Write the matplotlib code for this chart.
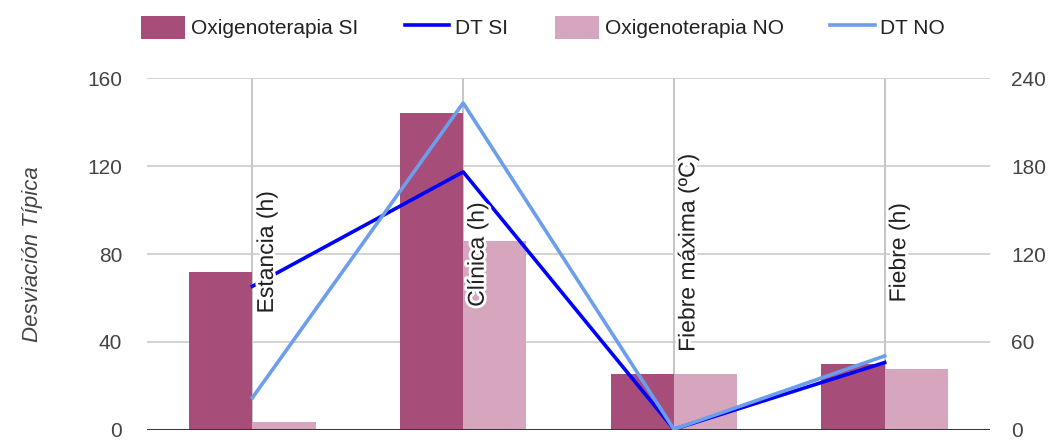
import numpy as np
import matplotlib.pyplot as plt
import matplotlib.patheffects as pe

plt.rcParams['font.family'] = ['Liberation Sans', 'DejaVu Sans']

# datos
categorias = ["Estancia (h)", "Clínica (h)", "Fiebre máxima (ºC)", "Fiebre (h)"]
oxi_si = [72, 144, 25.5, 30]
oxi_no = [3.5, 86, 25.5, 27.7]
dt_si = [98, 176, 0.5, 46]
dt_no = [22, 223, 0.5, 50.5]
# altura (eje izq.) donde termina cada etiqueta girada
etiqueta_y = [53, 56, 35.5, 58]

c_si = "#a64d79"
c_no = "#d5a6bd"
c_dtsi = "#0000ff"
c_dtno = "#6d9eeb"
gris = "#444444"

fig = plt.figure(figsize=(10.48, 4.41), dpi=100)
ax = fig.add_axes([0.1403, 0.025, 0.8044, 0.798])
ax2 = ax.twinx()

x = np.arange(len(categorias))
w = 0.30
b1 = ax.bar(x - w / 2, oxi_si, w, color=c_si, zorder=2, label="Oxigenoterapia SI")
b2 = ax.bar(x + w / 2, oxi_no, w, color=c_no, zorder=2, label="Oxigenoterapia NO")
l1, = ax2.plot(x, dt_si, color=c_dtsi, lw=2.6, zorder=3, label="DT SI")
l2, = ax2.plot(x, dt_no, color=c_dtno, lw=2.6, zorder=3, label="DT NO")

ax.set_xlim(-0.5, len(categorias) - 0.5)
ax.set_ylim(0, 160)
ax2.set_ylim(0, 240)
ax.set_yticks([0, 40, 80, 120, 160])
ax2.set_yticks([0, 60, 120, 180, 240])
ax.set_xticks([])

ax.grid(axis="y", color="#cccccc", lw=1.2, zorder=0)
for xi in x:
    ax.axvline(xi, color="#bbbbbb", lw=1.2, zorder=1)
ax.axhline(0, color="#333333", lw=1.4, zorder=4)

for a in (ax, ax2):
    for s in a.spines.values():
        s.set_visible(False)
    a.tick_params(length=0, labelsize=15, labelcolor=gris)
ax.tick_params(axis="y", pad=18)
ax2.tick_params(axis="y", pad=15)

ax2.set_zorder(ax.get_zorder() + 1)
ax2.patch.set_visible(False)

ax.set_ylabel("Desviación Típica", fontsize=16, color=gris, style="italic", labelpad=32)

for xi, nombre, yb in zip(x, categorias, etiqueta_y):
    ax2.text(xi + 0.012, yb * 240 / 160, nombre, rotation=90, ha="left", va="bottom",
             fontsize=16.5, color="#222222", zorder=5,
             path_effects=[pe.withStroke(linewidth=4, foreground="white")])

fig.legend(handles=[b1, l1, b2, l2], loc="upper center", bbox_to_anchor=(0.518, 1.006),
           ncol=4, frameon=False, fontsize=15, handlelength=2.15, handleheight=1.3,
           handletextpad=0.25, columnspacing=2.25, labelcolor="#222222")

fig.savefig("out.png", dpi=100)
